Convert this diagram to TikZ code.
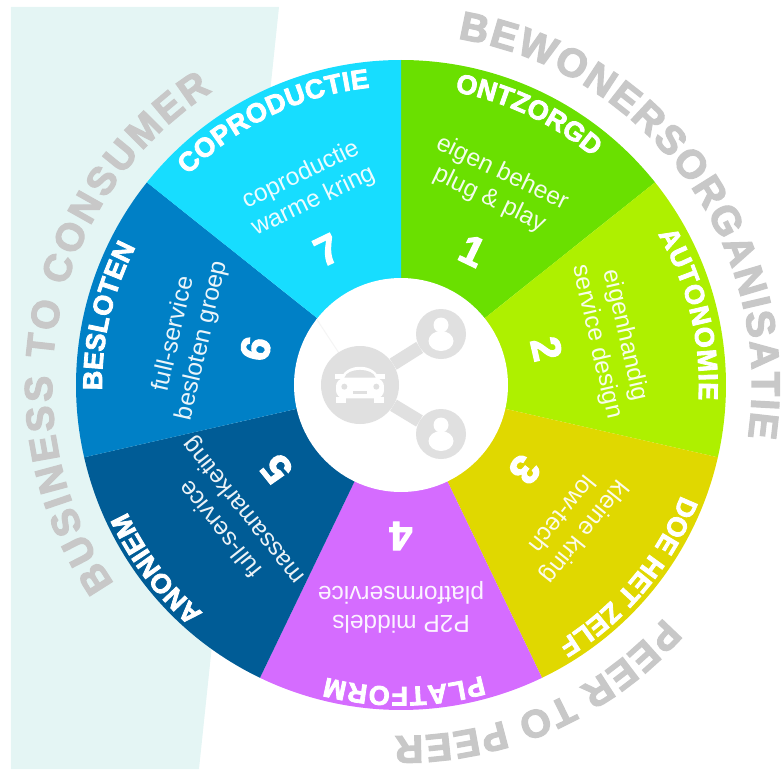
\documentclass[tikz,border=0pt]{standalone}
\usepackage{fontspec}
\setmainfont{Liberation Sans}
\newfontfamily\heavy[FakeBold=3]{Liberation Sans Bold}
\usetikzlibrary{decorations.text}
\definecolor{bgtint}{HTML}{E4F5F4}
\definecolor{greytxt}{HTML}{C8C8C8}
\definecolor{icongrey}{HTML}{E0E0E0}
\definecolor{secA}{HTML}{6AE000}
\definecolor{secB}{HTML}{AEF000}
\definecolor{secC}{HTML}{E0D800}
\definecolor{secD}{HTML}{D56CFF}
\definecolor{secE}{HTML}{005C96}
\definecolor{secF}{HTML}{0080C6}
\definecolor{secG}{HTML}{17DDFF}
\tikzset{
  desc/.style={text=white,text opacity=0.92,align=center,inner sep=0pt,font=\fontsize{24.5}{29}\selectfont},
  num/.style={text=white,inner sep=0pt,font=\heavy\fontsize{41}{41}\selectfont},
  iconline/.style={draw=icongrey,line width=13pt},
  faintline/.style={draw=black!4,line width=1pt},
  bigdot/.style={circle,fill=icongrey,inner sep=0pt,minimum size=78pt},
  smalldot/.style={circle,fill=icongrey,inner sep=0pt,minimum size=50pt}
}
% start angle, end angle, radius, colour, size, text
\newcommand{\arctext}[6]{%
  \path[decorate,decoration={text along path,text align={fit to path},
    text={|\color{#4}\heavy\fontsize{#5}{#5}\selectfont|#6}}]
    (#1:#3pt) arc[start angle=#1,end angle=#2,radius=#3pt];}
\newcommand{\wedgefill}[3]{%
  \fill[#3] (0,0) -- (#1:325pt) arc[start angle=#1,end angle=#2,radius=325pt] -- cycle;}
\newcommand{\personicon}[1]{%
  \fill[white] (#1)+(0,9pt) circle[radius=7.5pt];
  \fill[white] (#1)+(0,-7pt) ellipse[x radius=12.5pt,y radius=10pt];}
\begin{document}
\begin{tikzpicture}[x=1pt,y=1pt]
\useasboundingbox (-401,-384) rectangle (380,385);
\fill[bgtint] (-390,378) -- (-122,378) -- (-202,-384) -- (-390,-384) -- cycle;
\wedgefill{90}{38.571}{secA}
\wedgefill{38.571}{-12.857}{secB}
\wedgefill{-12.857}{-64.286}{secC}
\wedgefill{-64.286}{-115.714}{secD}
\wedgefill{-115.714}{-167.143}{secE}
\wedgefill{-167.143}{-218.571}{secF}
\wedgefill{-218.571}{-270}{secG}
\node[circle,fill=white,inner sep=0pt,minimum size=214pt] (hub) at (0,0) {};
% icon
\draw[faintline] (hub.142) -- (-41,0);
\node[bigdot] (car) at (-41,0) {};
\node[smalldot] (userA) at (40,51) {};
\node[smalldot] (userB) at (40,-49) {};
\draw[iconline] (car) -- (userA);
\draw[iconline] (car) -- (userB);
\personicon{userA}
\personicon{userB}
\begin{scope}[shift={(-41,0)},x=0.3333pt,y=-0.3333pt]
  \fill[white,rounded corners=8pt] (-72,-20) rectangle (72,40);
  \fill[white] (-58,-15) .. controls (-48,-68) and (48,-68) .. (58,-15) -- cycle;
  \fill[icongrey] (-47,-22) .. controls (-38,-53) and (38,-53) .. (47,-22) -- cycle;
  \fill[white] (-72,35) rectangle (-42,55);
  \fill[white] (42,35) rectangle (72,55);
  \fill[white] (-74,-33) rectangle (-50,-18);
  \fill[white] (50,-33) rectangle (74,-18);
  \fill[icongrey] (-47,5) circle[radius=9];
  \fill[icongrey] (49,5) circle[radius=9];
  \fill[icongrey] (-20,17) rectangle (20,27);
\end{scope}
% sector descriptions
\node[desc,rotate=-25.7] (d1) at (64.5:220) {eigen beheer\\plug \& play};
\node[desc,rotate=-77.1] (d2) at (12.5:215) {eigenhandig\\service design};
\node[desc,rotate=-128.6] (d3) at (-38.7:222) {kleine kring\\low-tech};
\node[desc,rotate=180] (d4) at (-90:222) {P2P middels\\platformservice};
\node[desc,rotate=128.6] (d5) at (-141.4:215) {full-service\\massamarketing};
\node[desc,rotate=77.1] (d6) at (167.4:218) {full-service\\besloten groep};
\node[desc,rotate=25.7] (d7) at (115.5:218) {coproductie\\warme kring};
% numbers
\node[num,rotate=-25.7] (n1) at (62:152) {1};
\node[num,rotate=-77.1] (n2) at (14:150) {2};
\node[num,rotate=-128.6] (n3) at (-34.4:150) {3};
\node[num,rotate=180] (n4) at (-90:151) {4};
\node[num,rotate=128.6] (n5) at (-146:150) {5};
\node[num,rotate=77.1] (n6) at (166:150) {6};
\node[num,rotate=25.7] (n7) at (118.7:154) {7};
% sector titles
\arctext{79.6}{50.1}{298}{white}{27}{ONTZORGD}
\arctext{30.4}{-2.9}{298}{white}{27}{AUTONOMIE}
\arctext{-21.5}{-58.4}{301}{white}{27}{DOE HET ZELF}
\arctext{-74.4}{-104.4}{302}{white}{27}{PLATFORM}
\arctext{-131}{-154}{302}{white}{27}{ANONIEM}
\arctext{181}{152.5}{299}{white}{27}{BESLOTEN}
\arctext{135.4}{96}{299}{white}{27}{COPRODUCTIE}
% outer titles
\arctext{80.7}{-8.6}{351}{greytxt}{40}{BEWONERSORGANISATIE}
\arctext{-41.5}{-91}{351}{greytxt}{39}{PEER TO PEER}
\arctext{214.7}{122.7}{349}{greytxt}{39}{BUSINESS TO CONSUMER}
\end{tikzpicture}
\end{document}
